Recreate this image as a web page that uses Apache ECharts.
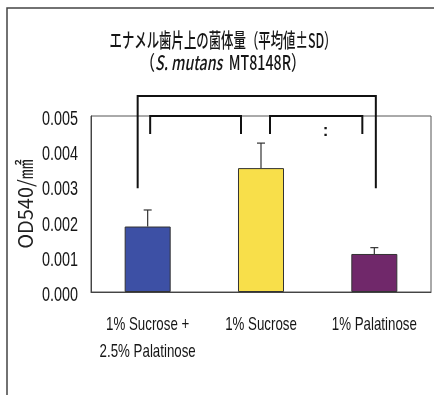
<!DOCTYPE html>
<html>
<head>
<meta charset="utf-8">
<script src="https://cdn.jsdelivr.net/npm/echarts@6/dist/echarts.min.js"></script>
<style>
  html, body { margin: 0; padding: 0; background: #fff; }
  #chart { width: 438px; height: 395px; }
</style>
</head>
<body>
<div id="chart"></div>
<script>
// Groups on the x axis
const categories = ['1% Sucrose +\n2.5% Palatinose', '1% Sucrose', '1% Palatinose'];
// Mean OD540 per mm² and its standard deviation
const means = [0.00186, 0.00352, 0.00108];
const sds = [0.00047, 0.00071, 0.00018];
const barColors = ['#3d50a5', '#f8df4a', '#70286a'];
// Y axis ticks
const yTicks = [0, 0.001, 0.002, 0.003, 0.004, 0.005];

const titleLine1 = 'エナメル歯片上の菌体量（平均値±SD）';
const yName = 'OD540/㎟';

const latin = '"Liberation Sans", Arial, sans-serif';
const cjk = '"Noto Sans CJK JP", "Noto Sans", sans-serif';
const ink = '#161616';

const chart = echarts.init(document.getElementById('chart'), null, { renderer: 'canvas' });

chart.setOption({
  backgroundColor: '#fff',
  animation: false,
  grid: {
    left: 91, right: 7, top: 116, bottom: 103,
    outerBoundsMode: 'none', containLabel: false,
    show: true, borderColor: '#555', borderWidth: 1, backgroundColor: 'transparent'
  },
  xAxis: {
    type: 'category',
    data: categories,
    axisLine: { show: true, lineStyle: { color: '#444', width: 1 } },
    axisTick: { show: false },
    axisLabel: { show: false }
  },
  yAxis: {
    type: 'value',
    min: yTicks[0], max: yTicks[yTicks.length - 1], interval: 0.001,
    name: yName, nameLocation: 'middle', nameRotate: 90, nameGap: 56,
    nameTextStyle: { fontFamily: cjk, fontSize: 20, color: '#222' },
    axisLine: { show: true, lineStyle: { color: '#444', width: 1 } },
    axisTick: { show: false },
    splitLine: { show: false },
    axisLabel: { show: false }
  },
  series: [
    {
      type: 'bar',
      barWidth: '40.6%',
      data: means.map((v, i) => ({ value: v, itemStyle: { color: barColors[i] } })),
      itemStyle: { borderColor: '#333', borderWidth: 1 },
      z: 2
    },
    {
      // upper SD whiskers
      type: 'custom',
      data: means.map((v, i) => [i, v, v + sds[i]]),
      renderItem: function (params, api) {
        const base = api.coord([api.value(0), api.value(1)]);
        const top = api.coord([api.value(0), api.value(2)]);
        const half = 4;
        return {
          type: 'group',
          children: [
            { type: 'line', shape: { x1: base[0], y1: base[1], x2: top[0], y2: top[1] },
              style: { stroke: '#333', lineWidth: 1.2 } },
            { type: 'line', shape: { x1: top[0] - half, y1: top[1], x2: top[0] + half, y2: top[1] },
              style: { stroke: '#333', lineWidth: 1.2 } }
          ]
        };
      },
      z: 3
    }
  ]
});

// Condensed tick / category labels, significance brackets, frame and titles
function px(ci, v) { return chart.convertToPixel({ xAxisIndex: 0, yAxisIndex: 0 }, [ci, v]); }
const c0 = px(0, 0), c1 = px(1, 0), c2 = px(2, 0);
const yBig = px(0, 0.00557)[1], yBigEnd = px(0, 0.00295)[1];
const ySmall = px(0, 0.005)[1], ySmallEnd = px(0, 0.00449)[1];
const bracketStyle = { stroke: '#111', lineWidth: 2, fill: null };

const graphics = [
  { type: 'polyline', shape: { points: [[7, 395], [7, 8], [434, 8]] }, style: { stroke: '#444', lineWidth: 1.5, fill: null } },
  { type: 'polyline', shape: { points: [[c0[0] - 10, yBigEnd], [c0[0] - 10, yBig], [c2[0] + 1.5, yBig], [c2[0] + 1.5, yBigEnd]] }, style: bracketStyle, z: 10 },
  { type: 'polyline', shape: { points: [[c0[0] + 2.5, ySmallEnd], [c0[0] + 2.5, ySmall], [c1[0] - 20, ySmall], [c1[0] - 20, ySmallEnd]] }, style: bracketStyle, z: 10 },
  { type: 'polyline', shape: { points: [[c1[0] + 9, ySmallEnd], [c1[0] + 9, ySmall], [c2[0] - 12, ySmall], [c2[0] - 12, ySmallEnd]] }, style: bracketStyle, z: 10 },
  { type: 'text', x: (c1[0] + c2[0]) / 2 + 8, y: px(0, 0.00457)[1], z: 10,
    style: { text: ':', fontSize: 17, fontWeight: 'bold', fontFamily: latin, fill: ink, align: 'center', verticalAlign: 'middle' } },
  { type: 'text', x: 223, y: 40, scaleX: 0.62, z: 10,
    style: { text: titleLine1, fontFamily: cjk, fontSize: 20, fontWeight: 500, fill: ink, align: 'center', verticalAlign: 'middle' } },
  { type: 'text', x: 223, y: 62, scaleX: 0.71, z: 10,
    style: {
      text: '{p|（}{i|S. mutans}{p|  MT8148R）}', align: 'center', verticalAlign: 'middle',
      rich: {
        p: { fontFamily: cjk, fontSize: 20, fontWeight: 500, fill: ink },
        i: { fontFamily: cjk, fontSize: 20, fontWeight: 500, fontStyle: 'italic', fill: ink }
      }
    } }
];

// y tick labels
yTicks.forEach(t => {
  const p = px(0, t);
  graphics.push({ type: 'text', x: 78, y: p[1] + 3.5, scaleX: 0.72, z: 10,
    style: { text: t.toFixed(3), fontFamily: latin, fontSize: 20, fill: ink, align: 'right', verticalAlign: 'middle' } });
});
// category labels
categories.forEach((name, i) => {
  const p = px(i, 0);
  graphics.push({ type: 'text', x: p[0], y: p[1] + 19, scaleX: 0.7, z: 10,
    style: { text: name, fontFamily: latin, fontSize: 19, lineHeight: 27, fill: ink, align: 'center', verticalAlign: 'top' } });
});

chart.setOption({ graphic: graphics });
</script>
</body>
</html>
